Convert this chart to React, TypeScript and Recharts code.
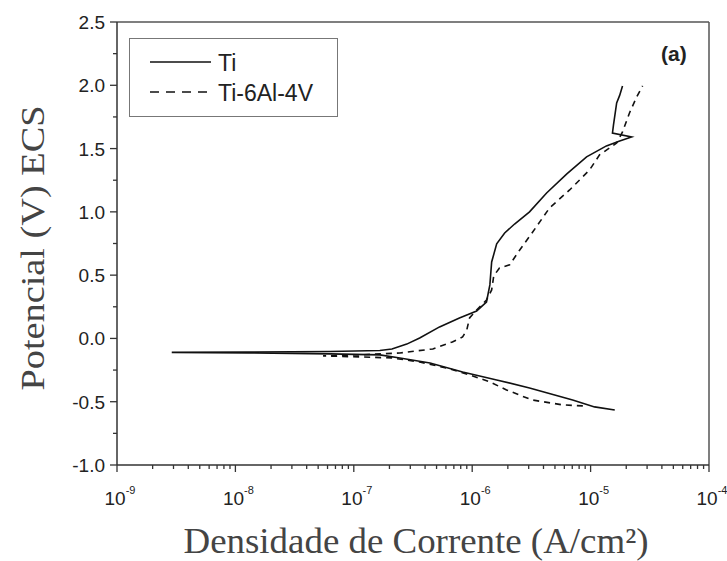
import React from 'react'
import { LineChart, Line, XAxis, YAxis, ReferenceLine, Label } from 'recharts'

// Ti polarization curve, cathodic end -> Ecorr -> anodic end
const tiCurrent = [
  1.6e-5, 1.08e-5, 7.05e-6, 3.05e-6, 1.61e-6, 8.3e-7, 4.4e-7, 2.45e-7, 1.66e-7, 6.3e-8,
  1.3e-8, 2.9e-9, 1.3e-8, 6.3e-8, 1.66e-7, 2.1e-7, 2.8e-7, 3.6e-7, 5.3e-7, 7.8e-7,
  1.09e-6, 1.32e-6, 1.41e-6, 1.46e-6, 1.61e-6, 1.88e-6, 2.28e-6, 3.05e-6, 4.25e-6, 6.3e-6,
  9.25e-6, 1.36e-5, 1.76e-5, 2.22e-5, 1.53e-5, 1.56e-5, 1.66e-5, 1.76e-5, 1.86e-5,
]
const tiPotential = [
  -0.565, -0.541, -0.486, -0.391, -0.328, -0.265, -0.194, -0.154, -0.13, -0.122,
  -0.115, -0.11, -0.107, -0.103, -0.095, -0.083, -0.045, 0.004, 0.091, 0.162,
  0.217, 0.288, 0.423, 0.604, 0.747, 0.833, 0.904, 1.0, 1.149, 1.3,
  1.434, 1.521, 1.56, 1.592, 1.623, 1.686, 1.86, 1.92, 1.995,
]

// Ti-6Al-4V polarization curve
const alloyCurrent = [
  8.6e-6, 5.8e-6, 3.2e-6, 1.95e-6, 1.41e-6, 9.5e-7, 6.5e-7, 3.6e-7, 2.1e-7, 1.12e-7,
  5.5e-8, 1.12e-7, 2.45e-7, 4.65e-7, 6.8e-7, 8.3e-7, 9.0e-7, 9.5e-7, 1.09e-6, 1.32e-6,
  1.46e-6, 1.52e-6, 1.7e-6, 2.07e-6, 2.52e-6, 3.2e-6, 4.5e-6, 6.65e-6, 9.8e-6, 1.19e-5,
  1.66e-5, 1.86e-5, 2.13e-5, 2.45e-5, 2.75e-5,
]
const alloyPotential = [
  -0.533, -0.525, -0.486, -0.407, -0.344, -0.288, -0.241, -0.186, -0.154, -0.146,
  -0.138, -0.13, -0.115, -0.083, -0.028, 0.012, 0.067, 0.162, 0.225, 0.304,
  0.383, 0.494, 0.557, 0.581, 0.699, 0.833, 1.031, 1.173, 1.331, 1.45,
  1.544, 1.631, 1.781, 1.908, 1.995,
]

const decades = [-9, -8, -7, -6, -5, -4]
const potentialTicks = [-1, -0.75, -0.5, -0.25, 0, 0.25, 0.5, 0.75, 1, 1.25, 1.5, 1.75, 2, 2.25, 2.5]

const tiData = tiCurrent.map((i, k) => ({ i, E: tiPotential[k] }))
const alloyData = alloyCurrent.map((i, k) => ({ i, E: alloyPotential[k] }))

// major decade ticks plus 2..9 minor ticks inside each decade
const currentTicks: number[] = []
decades.forEach((d, n) => {
  currentTicks.push(Math.pow(10, d))
  if (n < decades.length - 1) {
    for (let m = 2; m <= 9; m++) currentTicks.push(m * Math.pow(10, d))
  }
})

const SANS = '"Liberation Sans", Arial, sans-serif'
const SERIF = '"Liberation Serif", "Times New Roman", serif'
const AXIS = '#333'

const CurrentTick = (props: any) => {
  const { x, y, payload } = props
  const lg = Math.log10(payload.value)
  const exp = Math.round(lg)
  const major = Math.abs(lg - exp) < 1e-6
  return (
    <g>
      <line x1={x} y1={y} x2={x} y2={y + (major ? 7 : 4)} stroke={AXIS} strokeWidth={1.3} />
      {major && (
        <text x={x + 3} y={y + 40} textAnchor="middle" fontFamily={SANS} fontSize={19} fill="#222">
          10
          <tspan dy={-11} fontSize={11}>
            {exp}
          </tspan>
        </text>
      )}
    </g>
  )
}

const PotentialTick = (props: any) => {
  const { x, y, payload } = props
  const v = payload.value as number
  const major = Math.abs(v * 2 - Math.round(v * 2)) < 1e-6
  return (
    <g>
      <line x1={x} y1={y} x2={x - (major ? 7 : 4)} y2={y} stroke={AXIS} strokeWidth={1.3} />
      {major && (
        <text x={x - 12} y={y + 7} textAnchor="end" fontFamily={SANS} fontSize={19} fill="#222">
          {v.toFixed(1)}
        </text>
      )}
    </g>
  )
}

export default function App() {
  return (
    <div style={{ position: 'absolute', left: 0, top: 0, width: 727, height: 561, background: '#fff' }}>
      <LineChart width={727} height={561} margin={{ top: 22, right: 18, bottom: 46, left: 57 }}>
        <XAxis
          dataKey="i"
          type="number"
          scale="log"
          domain={[1e-9, 1e-4]}
          ticks={currentTicks}
          allowDataOverflow
          height={50}
          tickSize={0}
          tickMargin={0}
          tick={<CurrentTick />}
          interval={0}
          stroke={AXIS}
          strokeWidth={1.5}
        >
          <Label
            content={() => (
              <text x={416} y={553} textAnchor="middle" fontFamily={SERIF} fontSize={36} fill="#444"
                textLength={465} lengthAdjust="spacingAndGlyphs">
                Densidade de Corrente (A/cm²)
              </text>
            )}
          />
        </XAxis>
        <YAxis
          dataKey="E"
          type="number"
          domain={[-1, 2.5]}
          ticks={potentialTicks}
          allowDataOverflow
          width={60}
          tickSize={0}
          tickMargin={0}
          tick={<PotentialTick />}
          interval={0}
          stroke={AXIS}
          strokeWidth={1.5}
        >
          <Label
            content={() => (
              <text x={44} y={248} transform="rotate(-90 44 248)" textAnchor="middle" fontFamily={SERIF}
                fontSize={34} fill="#444" textLength={285} lengthAdjust="spacingAndGlyphs">
                Potencial (V) ECS
              </text>
            )}
          />
        </YAxis>
        <ReferenceLine y={2.5} stroke="#555" strokeWidth={1.5} ifOverflow="visible" />
        <ReferenceLine x={1e-4} stroke="#555" strokeWidth={1.5} ifOverflow="visible" />
        <Line
          data={tiData}
          dataKey="E"
          name="Ti"
          type="linear"
          stroke="#111"
          strokeWidth={1.6}
          dot={false}
          isAnimationActive={false}
        />
        <Line
          data={alloyData}
          dataKey="E"
          name="Ti-6Al-4V"
          type="linear"
          stroke="#111"
          strokeWidth={1.6}
          strokeDasharray="6 5"
          dot={false}
          isAnimationActive={false}
        />
      </LineChart>

      {/* legend box */}
      <div
        style={{
          position: 'absolute',
          left: 129,
          top: 38,
          width: 207,
          height: 77,
          border: '1.5px solid #777',
          fontFamily: SANS,
          fontSize: 23,
          color: '#222',
        }}
      >
        <svg width={207} height={77} style={{ position: 'absolute', left: 0, top: 0 }}>
          <line x1={20} y1={23} x2={81} y2={23} stroke="#111" strokeWidth={1.6} />
          <line x1={20} y1={53} x2={81} y2={53} stroke="#111" strokeWidth={1.6} strokeDasharray="9 7" />
          <text x={88} y={32} fontFamily={SANS} fontSize={23} fill="#222">Ti</text>
          <text x={88} y={62} fontFamily={SANS} fontSize={23} fill="#222">Ti-6Al-4V</text>
        </svg>
      </div>

      <div
        style={{
          position: 'absolute',
          left: 661,
          top: 42,
          fontFamily: SANS,
          fontWeight: 'bold',
          fontSize: 21,
          color: '#222',
        }}
      >
        (a)
      </div>
    </div>
  )
}
